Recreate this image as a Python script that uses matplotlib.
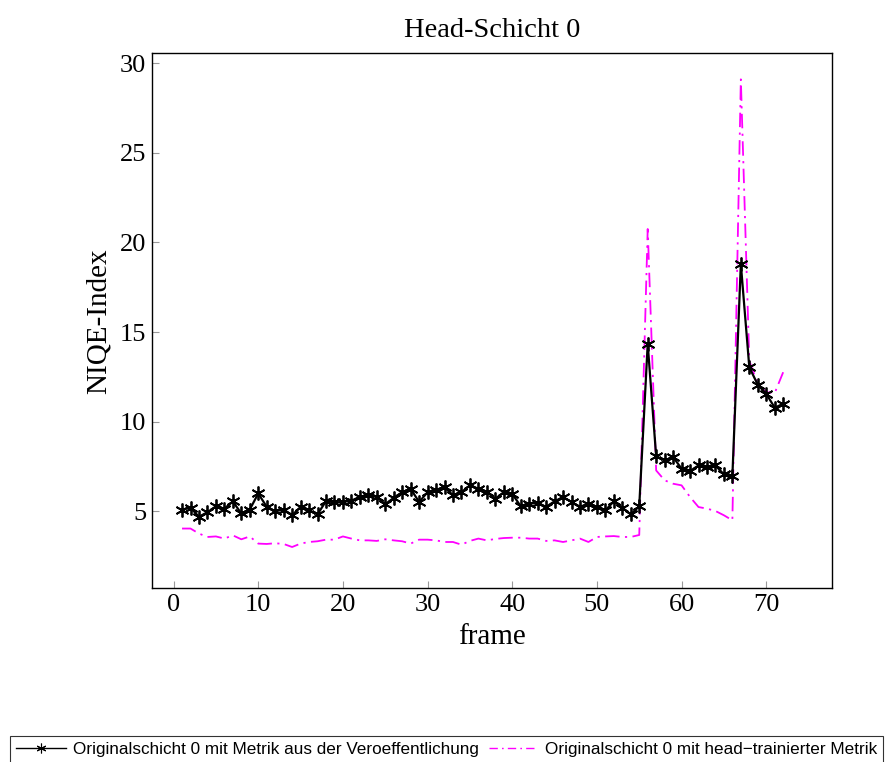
import matplotlib
matplotlib.use("Agg")
import matplotlib.pyplot as plt
from matplotlib.lines import Line2D

frames = list(range(1, 73))
orig_metric = [5.1, 5.2, 4.7, 4.95, 5.28, 5.15, 5.55, 4.88, 5.1, 6.0,
               5.25, 5.0, 5.1, 4.78, 5.25, 5.05, 4.83, 5.57, 5.5, 5.52,
               5.6, 5.8, 5.9, 5.8, 5.4, 5.75, 6.07, 6.26, 5.52, 6.07,
               6.2, 6.35, 5.9, 6.07, 6.45, 6.26, 6.1, 5.7, 6.07, 5.98,
               5.28, 5.43, 5.46, 5.25, 5.56, 5.8, 5.52, 5.25, 5.43, 5.25,
               5.05, 5.56, 5.2, 4.83, 5.28, 14.34, 8.06, 7.84, 8.03, 7.38,
               7.25, 7.56, 7.47, 7.56, 7.06, 6.95, 18.8, 13.04, 12.06, 11.56,
               10.78, 11.0]
head_metric = [4.04, 4.04, 3.76, 3.57, 3.6, 3.48, 3.66, 3.44, 3.6, 3.2,
               3.18, 3.22, 3.18, 3.01, 3.2, 3.29, 3.33, 3.42, 3.42, 3.6,
               3.48, 3.38, 3.38, 3.35, 3.44, 3.38, 3.33, 3.2, 3.42, 3.42,
               3.38, 3.29, 3.29, 3.14, 3.35, 3.48, 3.38, 3.46, 3.51, 3.53,
               3.53, 3.48, 3.48, 3.35, 3.38, 3.29, 3.38, 3.48, 3.29, 3.57,
               3.6, 3.62, 3.57, 3.57, 3.68, 20.75, 7.28, 6.73, 6.54, 6.45,
               5.8, 5.24, 5.15, 5.02, 4.78, 4.5, 29.1, 13.4, 12.1, 11.65,
               11.6, 12.76]
x_ticks = [0, 10, 20, 30, 40, 50, 60, 70]
y_ticks = [5, 10, 15, 20, 25, 30]
label_orig = "Originalschicht 0 mit Metrik aus der Veroeffentlichung"
label_head = "Originalschicht 0 mit head\u2212trainierter Metrik"

serif = ["Liberation Serif", "DejaVu Serif"]
sans = ["Liberation Sans", "DejaVu Sans"]

fig = plt.figure(figsize=(8.93, 7.62), dpi=100)
ax = fig.add_axes([0.1702, 0.2278, 0.7618, 0.7022])

ax.plot(frames, orig_metric, color="black", linewidth=1.6, marker=(6, 2, 0),
        markersize=10, markeredgewidth=1.3, zorder=3)
ax.plot(frames, head_metric, color="#ff00ff", linewidth=1.3,
        linestyle=(0, (8, 3, 1.2, 3)), zorder=2)

ax.set_xlim(-2.55, 77.8)
ax.set_ylim(0.7, 30.55)
ax.set_xticks(x_ticks)
ax.set_yticks(y_ticks)
ax.tick_params(direction="in", length=5, color="#999999", labelsize=19, pad=4)
for lab in ax.get_xticklabels() + ax.get_yticklabels():
    lab.set_family(serif)
for sp in ax.spines.values():
    sp.set_linewidth(1.0)

ax.set_xlabel("frame", fontsize=21, family=serif, labelpad=6)
ax.set_ylabel("NIQE-Index", fontsize=21, family=serif, labelpad=6)
ax.set_title("Head-Schicht 0", fontsize=20.5, family=serif, pad=12)

handles = [
    Line2D([], [], color="black", linewidth=1.0, marker=(6, 2, 0), markersize=7,
           markeredgewidth=0.8),
    Line2D([], [], color="#ff00ff", linewidth=1.0, linestyle=(0, (6, 3, 1.2, 3))),
]
leg = fig.legend(handles, [label_orig, label_head], loc="lower left",
                 bbox_to_anchor=(0.002, -0.012), ncol=2, frameon=True,
                 fancybox=False, edgecolor="black", borderpad=0.35,
                 handlelength=2.9, handletextpad=0.4, columnspacing=0.6,
                 prop={"family": sans, "size": 12.3})
leg.get_frame().set_linewidth(0.8)

fig.savefig("out.png", dpi=100)
